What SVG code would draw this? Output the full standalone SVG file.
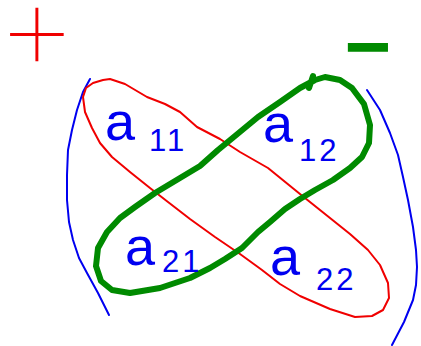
<svg xmlns="http://www.w3.org/2000/svg" width="421" height="346" viewBox="0 0 421 346">
<style>
.red{fill:none;stroke:#f00000;stroke-width:2;stroke-linejoin:round;stroke-linecap:round}
.green{fill:none;stroke:#008a00;stroke-width:6;stroke-linejoin:round;stroke-linecap:round}
.blue{fill:none;stroke:#0000f0;stroke-width:2;stroke-linejoin:round;stroke-linecap:round}
.a{font-family:"Liberation Sans",Arial,sans-serif;font-size:54px;fill:#0000f0}
.n{font-family:"Liberation Sans",Arial,sans-serif;font-size:31px;fill:#0000f0;letter-spacing:3px}
</style>
<rect width="421" height="346" fill="#fff"/>
<g id="plus"><text x="37" y="71" text-anchor="middle" font-family="Inter,'DejaVu Sans',sans-serif" font-weight="100" font-size="130" fill="#f00000">+</text></g>
<g id="minus"><text x="368" y="74" text-anchor="middle" font-family="'Liberation Sans',Arial,sans-serif" font-weight="bold" font-size="80" fill="#008a00">−</text></g>
<g id="connectors">
<path id="left-bracket" class="blue" d="M90,79 L83,92 L77,110 L72,130 L68,150 L67,175 L67,200 L69,222 L73,240 L79,258 L87,273 L98,293 L109,315"/>
<path id="right-bracket" class="blue" d="M367,90 L380,110 L390,133 L398,155 L403,177 L408,200 L413,227 L416,250 L417,267 L416,285 L413,300 L404,322 L392,345"/>
<path id="red-loop" class="red" d="M110,79 L125,84 L147,97 L165,104 L180,112 L197,127 L220,139 L240,152 L268,168 L300,194 L320,210 L350,234 L368,250 L380,265 L388,283 L389,298 L383,310 L372,316 L355,317 L330,309 L300,296 L280,284 L262,270 L240,254 L215,237 L190,219 L168,202 L150,188 L130,172 L112,157 L100,143 L92,128 L85,112 L83,97 L86,88 L93,83 L103,80 Z"/>
<path id="green-loop" class="green" d="M325,77 L340,80 L352,88 L364,104 L370,125 L369,143 L362,157 L350,168 L333,180 L315,190 L300,199 L285,209 L270,222 L258,232 L242,248 L225,259 L210,268 L190,278 L160,288 L130,293 L112,290 L101,281 L96,266 L98,248 L107,232 L120,218 L135,207 L155,193 L180,178 L200,166 L218,150 L235,136 L258,117 L280,102 L300,88 L315,80 Z M313,76 L309,88"/>
</g>
<g id="a11"><text class="a" x="105" y="140">a</text><text class="n" x="149" y="151">11</text></g>
<g id="a12"><text class="a" x="263" y="142">a</text><text class="n" x="299" y="161" letter-spacing="12">12</text></g>
<g id="a21"><text class="a" x="125" y="265">a</text><text class="n" x="162" y="272">21</text></g>
<g id="a22"><text class="a" x="270" y="275">a</text><text class="n" x="316" y="290" letter-spacing="10">22</text></g>
</svg>
